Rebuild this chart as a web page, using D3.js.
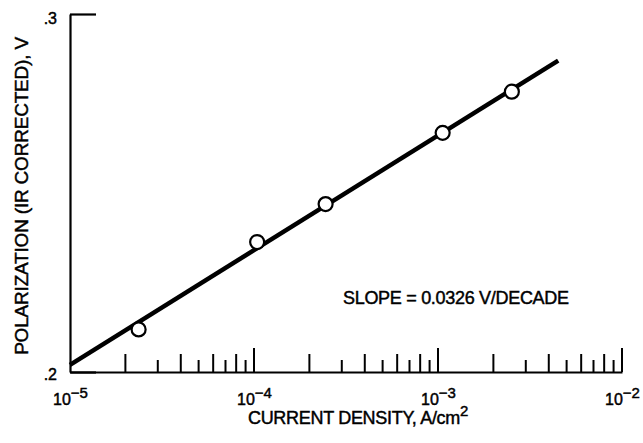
<!DOCTYPE html>
<html>
<head>
<meta charset="utf-8">
<script src="https://cdn.jsdelivr.net/npm/d3@7/dist/d3.min.js"></script>
<style>
  html, body { margin: 0; padding: 0; background: #fff; }
  svg { display: block; }
  text { font-family: "Liberation Sans", Arial, Helvetica, sans-serif; fill: #000; stroke: #000; stroke-width: 0.45px; }
</style>
</head>
<body>
<svg id="chart" width="643" height="443"></svg>
<script>
// ---- data ----
const currentDensity = [2.36e-5, 1.04e-4, 2.45e-4, 1.06e-3, 2.52e-3];   // A/cm^2
const polarization   = [0.2119, 0.2363, 0.2469, 0.2668, 0.2783];        // V
const fitX = [1e-5, 4.5e-3];       // fitted line end points (x)
const fitY = [0.2020, 0.2870];     // fitted line end points (y)
const xDecades = [1e-5, 1e-4, 1e-3, 1e-2];
const xExponents = ["\u22125", "\u22124", "\u22123", "\u22122"];
const yTicks = [0.2, 0.3];
const yTickLabels = [".2", ".3"];
const slopeText = "SLOPE = 0.0326 V/DECADE";

const svg = d3.select("#chart");
const x = d3.scaleLog().domain([1e-5, 1e-2]).range([70, 622]);
const y = d3.scaleLinear().domain([0.2, 0.3]).range([372, 14]);

// ---- left axis (.2 / .3) with inward tick at .3 ----
const yAxis = d3.axisLeft(y)
  .tickValues(yTicks)
  .tickSizeInner(-26)
  .tickSizeOuter(0)
  .tickPadding(13)
  .tickFormat((d, i) => yTickLabels[i]);
const gy = svg.append("g").attr("transform", `translate(${x(1e-5)},0)`).call(yAxis);
gy.attr("font-size", null).attr("font-family", null);
gy.select(".domain").attr("stroke", "#000").attr("stroke-width", 2.2);
gy.selectAll(".tick line").attr("stroke", "#000").attr("stroke-width", 2.2);
gy.selectAll(".tick text")
  .style("font-size", "16px")
  .attr("dy", (d) => d === 0.3 ? "0.6em" : "0.45em");

// ---- bottom axis ----
const xAxis = d3.axisBottom(x)
  .tickValues(xDecades)
  .tickSizeInner(0)
  .tickSizeOuter(0)
  .tickFormat(() => "");
const gx = svg.append("g").attr("transform", `translate(0,${y(0.2)})`).call(xAxis);
gx.attr("font-size", null).attr("font-family", null);
gx.select(".domain").attr("stroke", "#000").attr("stroke-width", 2.2);
gx.selectAll(".tick text").each(function (d, i) {
  const t = d3.select(this).attr("y", 33).attr("dy", null).attr("text-anchor", "middle");
  t.append("tspan").style("font-size", "16px").text("10");
  t.append("tspan").style("font-size", "15px").attr("dy", -7).text(xExponents[i]);
});

// inward ticks: decades long, 2/4/6/8 medium, 3/5/7/9 short
const minor = x.ticks().filter(d => d > 1e-5);
svg.append("g").selectAll("line").data(minor).join("line")
  .attr("x1", d => x(d)).attr("x2", d => x(d))
  .attr("y1", y(0.2))
  .attr("y2", d => {
    const m = Math.round(d / Math.pow(10, Math.floor(Math.log10(d) + 1e-9)));
    const len = m === 1 ? 24 : (m % 2 === 0 ? 18 : 12);
    return y(0.2) - len;
  })
  .attr("stroke", "#000").attr("stroke-width", 2);

// ---- fitted line ----
const line = d3.line().x(d => x(d[0])).y(d => y(d[1]));
svg.append("path")
  .datum(fitX.map((v, i) => [v, fitY[i]]))
  .attr("d", line)
  .attr("fill", "none").attr("stroke", "#000").attr("stroke-width", 4.5);

// ---- data points ----
svg.append("g").selectAll("circle")
  .data(currentDensity.map((v, i) => [v, polarization[i]]))
  .join("circle")
  .attr("cx", d => x(d[0])).attr("cy", d => y(d[1]))
  .attr("r", 7)
  .attr("fill", "#fff").attr("stroke", "#000").attr("stroke-width", 2.2);

// ---- annotation ----
svg.append("text")
  .attr("x", 343).attr("y", 304)
  .style("font-size", "18px")
  .style("letter-spacing", "-0.3px")
  .text(slopeText);

// ---- axis titles ----
const xt = svg.append("text")
  .attr("x", 358).attr("y", 424)
  .attr("text-anchor", "middle")
  .style("font-size", "18px")
  .style("letter-spacing", "-0.3px");
xt.append("tspan").text("CURRENT DENSITY, A/cm");
xt.append("tspan").attr("dy", -8).style("font-size", "15px").text("2");

svg.append("text")
  .attr("transform", "translate(28,196) rotate(-90)")
  .attr("text-anchor", "middle")
  .style("font-size", "19px")
  .style("letter-spacing", "-0.2px")
  .text("POLARIZATION (IR CORRECTED), V");
</script>
</body>
</html>
